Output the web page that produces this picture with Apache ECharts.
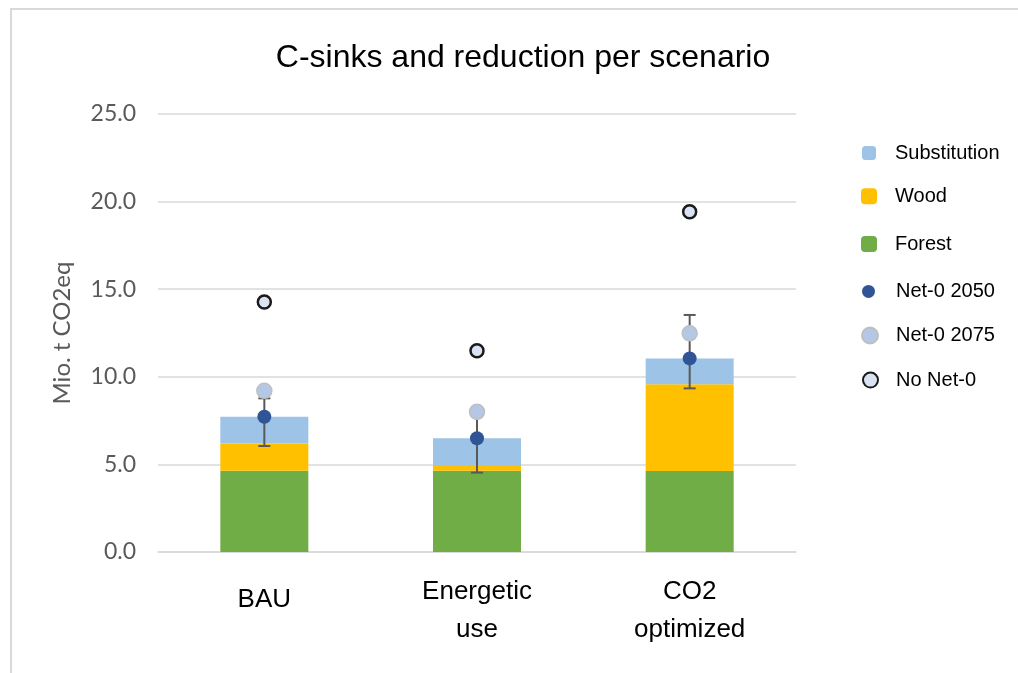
<!DOCTYPE html>
<html>
<head>
<meta charset="utf-8">
<script src="https://cdn.jsdelivr.net/npm/echarts@6/dist/echarts.min.js"></script>
<style>
html,body{margin:0;padding:0;background:#fff;}
#chart{width:1018px;height:673px;}
</style>
</head>
<body>
<div id="chart"></div>
<script>
const categories = ['BAU', 'Energetic\nuse', 'CO2\noptimized'];
const forest = [4.64, 4.64, 4.62];
const wood = [1.56, 0.33, 4.95];
const substitution = [1.52, 1.52, 1.48];
const net2050 = [7.72, 6.49, 11.05];
const net2075 = [9.2, 8.0, 12.48];
const noNet0 = [14.27, 11.49, 19.42];
const errLow = [6.05, 4.53, 9.34];
const errHigh = [8.77, 8.0, 13.53];
const yTicks = { min: 0, max: 25, interval: 5 };

const chart = echarts.init(document.getElementById('chart'));
const errData = categories.map((c, i) => [i, errLow[i], errHigh[i]]);

function legendItem(name, left, center, size, padLeft) {
  return {
    data: [name], left: left, top: center - 14.5, orient: 'vertical',
    itemWidth: size, itemHeight: size, selectedMode: false,
    textStyle: { fontFamily: 'Liberation Sans', fontSize: 20, color: '#000', lineHeight: 20,
      padding: [0, 0, 0, padLeft] }
  };
}

chart.setOption({
  animation: false,
  backgroundColor: '#fff',
  graphic: [{
    type: 'rect', z: -10, shape: { x: 11, y: 9, width: 1200, height: 800 },
    style: { fill: 'none', stroke: '#d9d9d9', lineWidth: 2 }
  }],
  title: {
    text: 'C-sinks and reduction per scenario', left: 518, top: 37, textAlign: 'center',
    textStyle: { fontFamily: 'Liberation Sans', fontSize: 32, fontWeight: 'normal', color: '#000' }
  },
  legend: [
    legendItem('Substitution', 857, 152.6, 14, 14),
    legendItem('Wood', 856, 195.7, 16, 13),
    legendItem('Forest', 856, 243.5, 16, 13),
    legendItem('Net-0 2050', 857, 290.9, 13, 16),
    legendItem('Net-0 2075', 856, 335, 16, 13),
    legendItem('No Net-0', 857, 379.6, 15, 13)
  ],
  grid: { left: 158, right: 222, top: 114, bottom: 121 },
  xAxis: {
    type: 'category', data: categories,
    axisLine: { lineStyle: { color: '#d9d9d9', width: 1.5 } },
    axisTick: { show: false },
    axisLabel: { fontFamily: 'Liberation Sans', fontSize: 26, color: '#000', margin: 21, lineHeight: 38,
      formatter: v => v.indexOf('\n') < 0 ? '{s|' + v + '}' : v,
      rich: { s: { fontFamily: 'Liberation Sans', fontSize: 26, color: '#000', lineHeight: 38, padding: [15, 0, 0, 0] } }
    }
  },
  yAxis: {
    type: 'value', min: yTicks.min, max: yTicks.max, interval: yTicks.interval,
    name: 'Mio. t CO2eq', nameLocation: 'middle', nameGap: 84,
    nameTextStyle: { fontFamily: 'Lato', fontSize: 24, color: '#595959' },
    axisLine: { show: false }, axisTick: { show: false },
    splitLine: { lineStyle: { color: '#d9d9d9', width: 1.5 } },
    axisLabel: { fontFamily: 'Lato', fontSize: 23, color: '#595959', margin: 22,
      formatter: v => v.toFixed(1) }
  },
  series: [
    { name: 'Forest', type: 'bar', stack: 's', barWidth: 88, data: forest,
      itemStyle: { color: '#70ad47' }, z: 2 },
    { name: 'Wood', type: 'bar', stack: 's', barWidth: 88, data: wood,
      itemStyle: { color: '#ffc000' }, z: 2 },
    { name: 'Substitution', type: 'bar', stack: 's', barWidth: 88, data: substitution,
      itemStyle: { color: '#9dc3e6' }, z: 2 },
    { name: 'Error', type: 'custom', data: errData, z: 3,
      encode: { x: 0, y: [1, 2] },
      renderItem: function (params, api) {
        const x = api.value(0);
        const lo = api.coord([x, api.value(1)]);
        const hi = api.coord([x, api.value(2)]);
        const hw = 6;
        const st = { stroke: '#595959', lineWidth: 2 };
        return { type: 'group', children: [
          { type: 'line', shape: { x1: lo[0], y1: lo[1], x2: hi[0], y2: hi[1] }, style: st },
          { type: 'line', shape: { x1: lo[0] - hw, y1: lo[1], x2: lo[0] + hw, y2: lo[1] }, style: st },
          { type: 'line', shape: { x1: hi[0] - hw, y1: hi[1], x2: hi[0] + hw, y2: hi[1] }, style: st }
        ] };
      }
    },
    { name: 'Net-0 2050', type: 'scatter', data: net2050, symbolSize: 14, z: 5,
      itemStyle: { color: '#2f5597', opacity: 1 } },
    { name: 'Net-0 2075', type: 'scatter', data: net2075, symbolSize: 15, z: 4,
      itemStyle: { color: '#b4c7e7', borderColor: '#bfbfbf', borderWidth: 1.5, opacity: 1 } },
    { name: 'No Net-0', type: 'scatter', data: noNet0, symbolSize: 13, z: 4,
      itemStyle: { color: '#dae3f3', borderColor: '#1a1a1a', borderWidth: 2.5, opacity: 1 } }
  ]
});
</script>
</body>
</html>
